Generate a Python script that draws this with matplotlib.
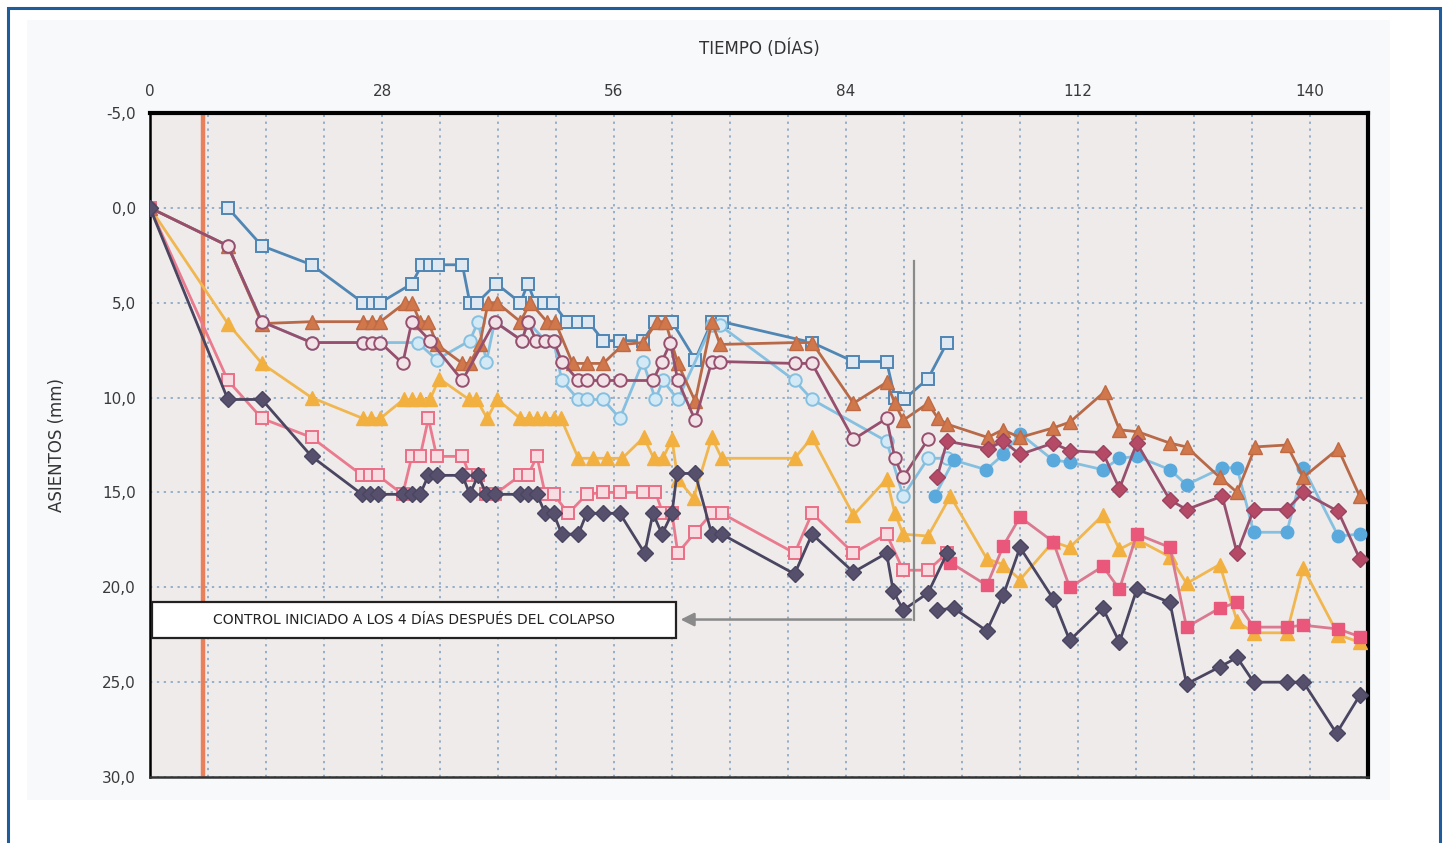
import matplotlib
matplotlib.use("Agg")
import matplotlib.pyplot as plt
from matplotlib.patches import Rectangle
from matplotlib.ticker import FuncFormatter, MultipleLocator

# ---- data (days, settlement in mm) ----
blue_sq_x = [9.4, 13.5, 19.5, 25.7, 26.9, 27.8, 31.6, 32.8, 33.8, 34.8, 37.7, 38.6, 39.5, 41.8,
             44.7, 45.6, 46.5, 47.5, 48.6, 50.3, 51.7, 52.9, 54.7, 56.7, 59.5, 61.0, 62.0, 63.0,
             65.8, 67.8, 69.0, 79.9, 84.9, 88.9, 89.9, 91.0, 93.9, 96.2]
blue_sq_y = [0, 2, 3, 5, 5, 5, 4, 3, 3, 3, 3, 5, 5, 4,
             5, 4, 5, 5, 5, 6, 6, 6, 7, 7, 7, 6, 6, 6,
             8, 6, 6, 7.1, 8.1, 8.1, 10, 10.1, 9, 7.1]

brown_tri_x = [0, 9.4, 13.5, 19.5, 25.7, 26.8, 27.8, 30.8, 31.6, 32.6, 33.6, 34.6, 37.7, 38.6,
               39.8, 40.8, 41.9, 44.7, 45.9, 47.9, 48.9, 51.0, 52.7, 54.7, 57.1, 59.5, 61.2, 62.2,
               63.7, 65.8, 67.8, 68.8, 78.0, 79.9, 84.9, 88.9, 89.9, 90.9, 93.9, 95.1, 96.2, 101.1,
               102.9, 105.0, 109.0, 111.0, 115.2, 117.0, 119.2, 123.1, 125.1, 129.1, 131.2, 133.4,
               137.2, 139.2, 143.4, 146.0]
brown_tri_y = [0, 2, 6.1, 6, 6, 6, 6, 5, 5, 6, 6, 7.2, 8.2, 8.2,
               7.2, 5, 5, 6, 5, 6, 6, 8.2, 8.2, 8.2, 7.2, 7.1, 6, 6,
               8.2, 10.2, 6, 7.2, 7.1, 7.1, 10.3, 9.2, 10.3, 11.2, 10.3, 11.1, 11.4, 12.1,
               11.7, 12.1, 11.6, 11.3, 9.7, 11.7, 11.8, 12.4, 12.6, 14.2, 15.0, 12.6,
               12.5, 14.2, 12.7, 15.2]

ltblue_open_x = [0, 9.4, 13.5, 19.5, 25.7, 27.8, 32.3, 34.6, 38.6, 39.6, 40.6, 41.6, 44.9, 45.6,
                 47.7, 48.7, 49.7, 51.7, 52.7, 54.7, 56.7, 59.5, 61.0, 61.9, 63.7, 67.8, 68.8,
                 77.8, 79.9, 88.9, 90.9, 93.9, 96.2]
ltblue_open_y = [0, 2, 6, 7.1, 7.1, 7.1, 7.1, 8.0, 7.0, 6.0, 8.1, 6, 7, 6,
                 7, 7, 9.1, 10.1, 10.1, 10.1, 11.1, 8.1, 10.1, 9.1, 10.1, 6.2, 6.2,
                 9.1, 10.1, 12.3, 15.2, 13.2, 13.2]
ltblue_fill_x = [94.7, 97.0, 100.9, 103.0, 105.0, 109.0, 111.0, 115.0, 117.0, 119.1, 123.1,
                 125.1, 129.4, 131.2, 133.2, 137.2, 139.2, 143.4, 146.0]
ltblue_fill_y = [15.2, 13.3, 13.8, 13.0, 11.9, 13.3, 13.4, 13.8, 13.2, 13.1, 13.8,
                 14.6, 13.7, 13.7, 17.1, 17.1, 13.7, 17.3, 17.2]

mauve_open_x = [0, 9.4, 13.5, 19.5, 25.7, 26.8, 27.8, 30.5, 31.6, 33.8, 37.7, 41.6, 44.9, 45.6,
                46.6, 47.7, 48.7, 49.7, 51.7, 52.7, 54.7, 56.7, 60.7, 61.8, 62.8, 63.7, 65.8,
                67.8, 68.8, 77.8, 79.9, 84.9, 88.9, 89.9, 90.9, 93.9]
mauve_open_y = [0, 2, 6, 7.1, 7.1, 7.1, 7.1, 8.2, 6, 7, 9.1, 6, 7, 6,
                7, 7, 7, 8.1, 9.1, 9.1, 9.1, 9.1, 9.1, 8.1, 7.1, 9.1, 11.2,
                8.1, 8.1, 8.2, 8.2, 12.2, 11.1, 13.2, 14.2, 12.2]
mauve_fill_x = [95.0, 96.2, 101.1, 103.0, 105.0, 109.0, 111.0, 115.0, 117.0, 119.1, 123.1,
                125.1, 129.4, 131.2, 133.2, 137.2, 139.2, 143.4, 146.0]
mauve_fill_y = [14.2, 12.3, 12.7, 12.3, 13.0, 12.4, 12.8, 12.9, 14.8, 12.4, 15.4,
                15.9, 15.2, 18.2, 15.9, 15.9, 15.0, 16.0, 18.5]

yellow_x = [0, 9.4, 13.5, 19.5, 25.7, 26.7, 27.8, 30.6, 31.6, 32.6, 33.8, 34.9, 38.5, 39.4,
            40.7, 41.9, 44.7, 45.7, 46.7, 47.7, 48.7, 49.6, 51.7, 53.5, 55.2, 57.0, 59.6, 60.8,
            61.9, 63.0, 63.7, 65.6, 67.8, 69.0, 77.8, 79.9, 84.9, 88.9, 89.9, 90.9, 93.9, 96.6,
            101.0, 103.0, 105.0, 109.0, 111.0, 115.0, 117.0, 119.2, 123.1, 125.1, 129.1, 131.2,
            133.2, 137.2, 139.2, 143.4, 146.0]
yellow_y = [0, 6.1, 8.2, 10, 11.1, 11.1, 11.1, 10.1, 10.1, 10.1, 10.1, 9, 10.1, 10.1,
            11.1, 10.1, 11.1, 11.1, 11.1, 11.1, 11.1, 11.1, 13.2, 13.2, 13.2, 13.2, 12.1, 13.2,
            13.2, 12.2, 14.3, 15.3, 12.1, 13.2, 13.2, 12.1, 16.2, 14.3, 16.1, 17.2, 17.3, 15.2,
            18.5, 18.8, 19.6, 17.6, 17.9, 16.2, 18.0, 17.5, 18.4, 19.8, 18.8, 21.8,
            22.4, 22.4, 19.0, 22.5, 22.9]

pink_open_x = [0, 9.4, 13.5, 19.5, 25.6, 26.6, 27.5, 30.5, 31.6, 32.6, 33.6, 34.6, 37.7, 38.6,
               39.6, 40.6, 41.6, 44.7, 45.6, 46.7, 47.7, 48.7, 50.5, 52.7, 54.7, 56.7, 59.5,
               61.0, 61.9, 63.0, 63.7, 65.8, 67.8, 69.0, 77.8, 79.9, 84.9, 88.9, 90.9, 93.9, 96.2]
pink_open_y = [0, 9.1, 11.1, 12.1, 14.1, 14.1, 14.1, 15.1, 13.1, 13.1, 11.1, 13.1, 13.1, 14.1,
               14.1, 15.1, 15.1, 14.1, 14.1, 13.1, 15.1, 15.1, 16.1, 15.1, 15.0, 15.0, 15.0,
               15.0, 16.1, 16.1, 18.2, 17.1, 16.1, 16.1, 18.2, 16.1, 18.2, 17.2, 19.1, 19.1, 18.2]
pink_fill_x = [96.6, 101.0, 103.0, 105.0, 109.0, 111.0, 115.0, 117.0, 119.1, 123.1, 125.1,
               129.1, 131.2, 133.2, 137.2, 139.2, 143.4, 146.0]
pink_fill_y = [18.7, 19.9, 17.8, 16.3, 17.6, 20.0, 18.9, 20.1, 17.2, 17.9, 22.1,
               21.1, 20.8, 22.1, 22.1, 22.0, 22.2, 22.6]

navy_a_x = [0, 9.4, 13.5, 19.5, 25.6, 26.6, 27.5, 30.5, 31.6, 32.6, 33.6, 34.6, 37.7, 38.6,
            39.6, 40.6, 41.6, 44.7, 45.6, 46.7, 47.7, 48.7, 49.7, 51.7, 52.7, 54.7, 56.7, 59.7,
            60.7, 61.8, 63.0, 63.6, 65.8, 67.8, 69.0, 77.8, 79.9, 84.9, 88.9, 89.7, 90.9, 93.9, 96.2]
navy_a_y = [0, 10.1, 10.1, 13.1, 15.1, 15.1, 15.1, 15.1, 15.1, 15.1, 14.1, 14.1, 14.1, 15.1,
            14.1, 15.1, 15.1, 15.1, 15.1, 15.1, 16.1, 16.1, 17.2, 17.2, 16.1, 16.1, 16.1, 18.2,
            16.1, 17.2, 16.1, 14.0, 14.0, 17.2, 17.2, 19.3, 17.2, 19.2, 18.2, 20.2, 21.2, 20.3, 18.2]
navy_b_x = [95.0, 97.0, 101.0, 103.0, 105.0, 109.0, 111.0, 115.0, 117.0, 119.1, 123.1, 125.1,
            129.1, 131.2, 133.2, 137.2, 139.2, 143.2, 146.0]
navy_b_y = [21.2, 21.1, 22.3, 20.4, 17.9, 20.6, 22.8, 21.1, 22.9, 20.1, 20.8, 25.1,
            24.2, 23.7, 25.0, 25.0, 25.0, 27.7, 25.7]

x_ticks = [0, 28, 56, 84, 112, 140]
control_day = 6.4
note = "CONTROL INICIADO A LOS 4 DÍAS DESPUÉS DEL COLAPSO"

fig = plt.figure(figsize=(14.5, 8.43), dpi=100)
fig.patch.set_facecolor("white")
fig.patches.append(Rectangle((27 / 1450, 1 - 800 / 843), 1363 / 1450, 780 / 843,
                             transform=fig.transFigure, facecolor="#f8f9fb",
                             edgecolor="none", zorder=-2))
fig.patches.append(Rectangle((8 / 1450, -0.05), 1432 / 1450, 1.05 - 8 / 843,
                             transform=fig.transFigure, facecolor="none",
                             edgecolor="#1f5c9e", linewidth=2.2, zorder=-1))

ax = fig.add_axes([150 / 1450, 1 - 777 / 843, 1218 / 1450, 664 / 843])
ax.set_zorder(3)
ax.set_facecolor("#efebeb")
ax.set_xlim(0, 147)
ax.set_ylim(30, -5)

ax.xaxis.set_ticks_position("top")
ax.xaxis.set_label_position("top")
ax.set_xticks(x_ticks)
ax.xaxis.set_minor_locator(MultipleLocator(7))
ax.yaxis.set_major_locator(MultipleLocator(5))
ax.yaxis.set_major_formatter(FuncFormatter(lambda v, p: f"{v:.1f}".replace(".", ",")))
ax.tick_params(axis="both", which="both", length=0, labelsize=11, colors="#3a3a3a", pad=10)
ax.grid(True, which="both", axis="x", linestyle=(0, (1.5, 3)), color="#7d9fc0", linewidth=1.1)
ax.grid(True, which="major", axis="y", linestyle=(0, (1.5, 3)), color="#7d9fc0", linewidth=1.1)
ax.set_axisbelow(True)
for s in ["top", "right"]:
    ax.spines[s].set_linewidth(3)
    ax.spines[s].set_color("black")
ax.spines["left"].set_linewidth(1.8)
ax.spines["bottom"].set_linewidth(1.8)
ax.spines["bottom"].set_color("#333333")

ax.set_xlabel("TIEMPO (DÍAS)", fontsize=12, color="#333333", labelpad=22)
ax.set_ylabel("ASIENTOS (mm)", fontsize=12, color="#333333", labelpad=26)

ax.axvline(control_day, color="#e8805c", linewidth=3.2, zorder=2)

lw = 2.0
ms = 9
ax.plot(blue_sq_x, blue_sq_y, color="#4f86b4", lw=lw, marker="s", ms=ms,
        mfc="#dfe7f0", mec="#4f86b4", mew=1.4, zorder=3)
ax.plot(ltblue_open_x, ltblue_open_y, color="#86c0e0", lw=lw, marker="o", ms=ms,
        mfc="#d3e9f5", mec="#86c0e0", mew=1.4, zorder=3)
ax.plot(ltblue_fill_x, ltblue_fill_y, color="#86c0e0", lw=lw, marker="o", ms=ms,
        mfc="#5aa9dc", mec="#5aa9dc", zorder=3)
ax.plot(brown_tri_x, brown_tri_y, color="#b86a48", lw=lw, marker="^", ms=ms + 1,
        mfc="#d0784c", mec="#c06a44", zorder=4)
ax.plot(mauve_open_x, mauve_open_y, color="#96506e", lw=lw, marker="o", ms=ms,
        mfc="#f2e3e8", mec="#96506e", mew=1.4, zorder=4)
ax.plot(mauve_fill_x, mauve_fill_y, color="#96506e", lw=lw, marker="D", ms=ms - 1,
        mfc="#b44a66", mec="#9a4462", zorder=4)
ax.plot(yellow_x, yellow_y, color="#f0b750", lw=lw, marker="^", ms=ms + 1,
        mfc="#f2b040", mec="#f2b040", zorder=3)
ax.plot(pink_open_x, pink_open_y, color="#ea7a8e", lw=lw, marker="s", ms=ms,
        mfc="#f7dde2", mec="#ea6f86", mew=1.4, zorder=3)
ax.plot(pink_fill_x, pink_fill_y, color="#d97a90", lw=lw, marker="s", ms=ms,
        mfc="#e9577a", mec="#e9577a", zorder=3)
ax.plot(navy_a_x, navy_a_y, color="#4a4560", lw=lw, marker="D", ms=ms - 1,
        mfc="#56506c", mec="#4a4560", zorder=5)
ax.plot(navy_b_x, navy_b_y, color="#4a4560", lw=lw, marker="D", ms=ms - 1,
        mfc="#56506c", mec="#4a4560", zorder=5)

# note box with pointer line
ax.add_patch(Rectangle((0.2, 20.8), 63.3, 1.85, facecolor="white", edgecolor="#222222",
                       linewidth=1.6, zorder=6))
ax.text(31.8, 21.72, note, ha="center", va="center", fontsize=10, color="#222222", zorder=7)
ax.plot([92.2, 92.2], [2.8, 21.7], color="#8a8a8a", lw=1.6, zorder=6)
ax.annotate("", xy=(63.7, 21.7), xytext=(92.2, 21.7),
            arrowprops=dict(arrowstyle="-|>", color="#8a8a8a", lw=1.8, mutation_scale=20),
            zorder=6)

fig.savefig("out.png", dpi=100, facecolor=fig.get_facecolor())
